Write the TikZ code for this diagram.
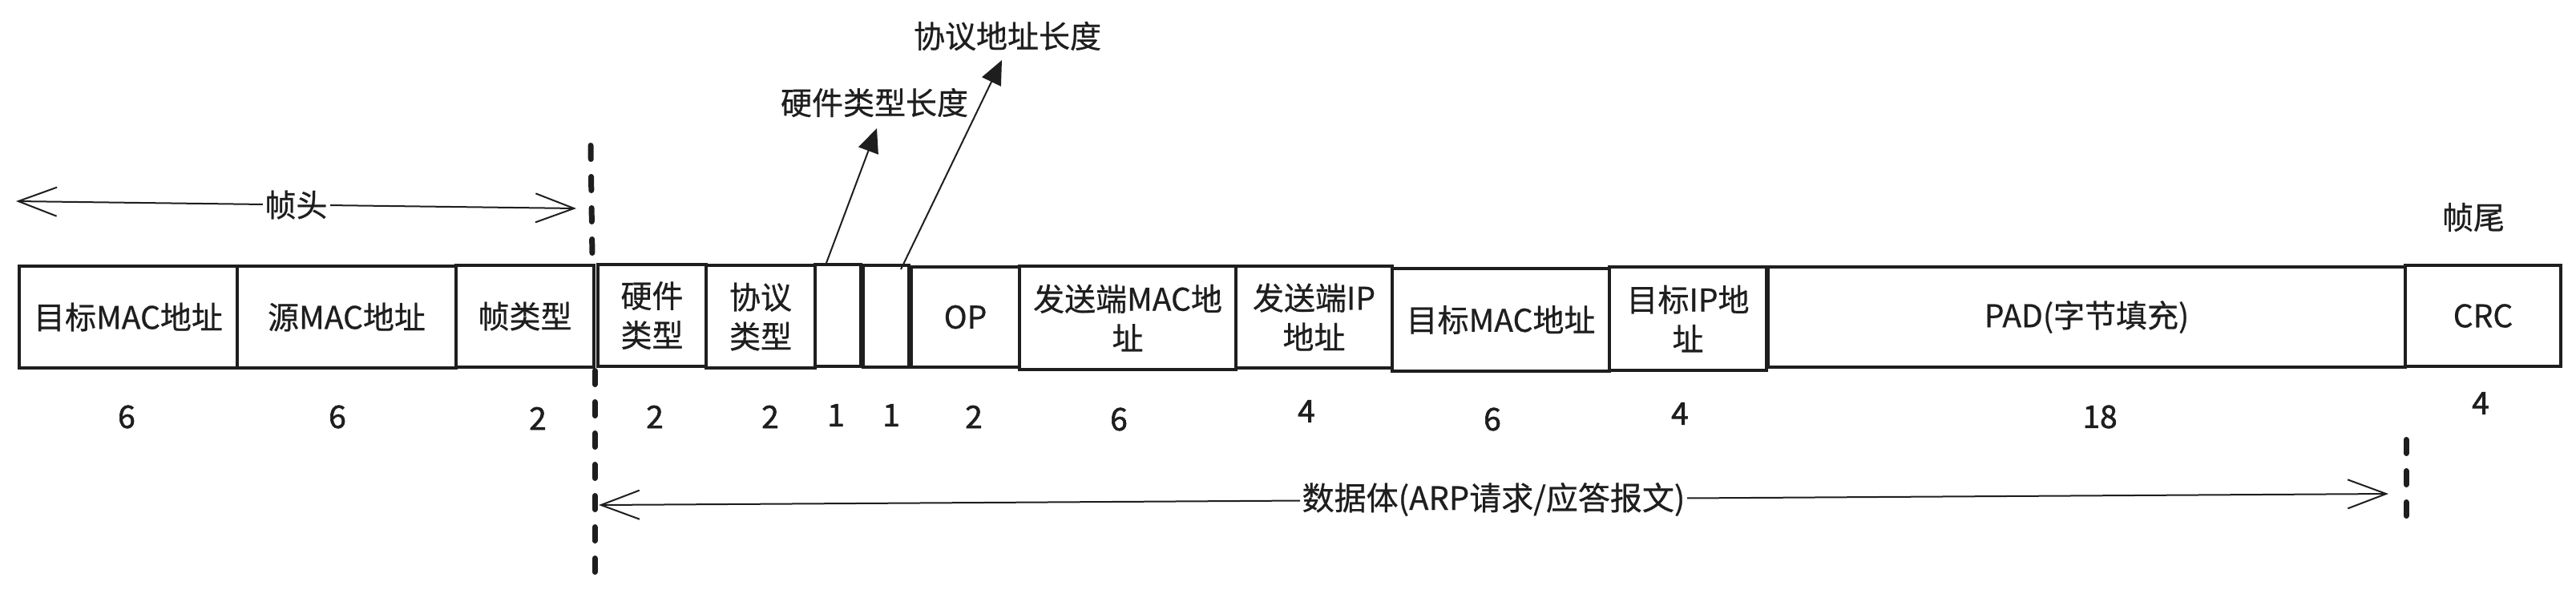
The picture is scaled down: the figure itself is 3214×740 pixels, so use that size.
\documentclass[tikz,border=0pt]{standalone}
\usepackage{fontspec}
\setmainfont{Noto Sans CJK SC}[FakeBold=0.6]
\newfontfamily\numfont{Noto Sans CJK SC}[FakeBold=1.6]
\usetikzlibrary{arrows.meta}
\definecolor{ink}{HTML}{1E1E1E}
\begin{document}
\begin{tikzpicture}[x=1pt,y=-1pt,
  fld/.style={draw=ink, line width=4pt, fill=white, inner sep=0pt, align=center,
              font=\fontsize{39}{49}\selectfont, text=ink},
  num/.style={font=\numfont\fontsize{39}{40}\selectfont, text=ink, inner sep=0pt},
  lbl/.style={font=\fontsize{39}{49}\selectfont, text=ink, inner sep=3pt},
  span/.style={draw=ink, line width=2pt,
               {Straight Barb[length=48pt,width=36pt]}-{Straight Barb[length=48pt,width=36pt]}},
  ptr/.style={draw=ink, line width=2pt, -{Triangle[length=30pt,width=26pt]}},
  sepline/.style={draw=ink, line width=7pt, line cap=round, dash pattern=on 17pt off 22pt},
]
\useasboundingbox (0,0) rectangle (3214,740);

% separators
\coordinate (s1a) at (737,181.5);
\coordinate (s1b) at (739,322);
\coordinate (s2a) at (742,462.5);
\coordinate (s2b) at (742,722);
\coordinate (s3a) at (3002,548.5);
\coordinate (s3b) at (3002,648);
\draw[sepline] (s1a) -- (s1b);
\draw[sepline] (s2a) -- (s2b);
\draw[sepline] (s3a) -- (s3b);

% fields
\node[fld, minimum width=272, minimum height=127] (b1)  at (160,395.5)  {目标MAC地址};
\node[fld, minimum width=273, minimum height=127] (b2)  at (432.5,395.5) {源MAC地址};
\node[fld, minimum width=172, minimum height=127] (b3)  at (655,394.5)  {帧类型};
\node[fld, minimum width=135, minimum height=127] (b4)  at (813.5,393.5) {硬件\\类型};
\node[fld, minimum width=136, minimum height=128] (b5)  at (949,395)    {协议\\类型};
\node[fld, minimum width=57,  minimum height=127] (b6)  at (1045.5,393.5) {};
\node[fld, minimum width=57,  minimum height=127] (b7)  at (1105.5,394.5) {};
\node[fld, minimum width=135, minimum height=125] (b8)  at (1204.5,395.5) {OP};
\node[fld, minimum width=270, minimum height=129] (b9)  at (1407,396.5)  {发送端MAC地\\址};
\node[fld, minimum width=195, minimum height=127] (b10) at (1639.5,395.5) {发送端IP\\地址};
\node[fld, minimum width=271, minimum height=128] (b11) at (1872.5,399)  {目标MAC地址};
\node[fld, minimum width=196, minimum height=129] (b12) at (2106,397.5)  {目标IP地\\址};
\node[fld, minimum width=795, minimum height=125] (b13) at (2603.5,395.5) {PAD(字节填充)};
\node[fld, minimum width=194, minimum height=126] (b14) at (3098,394)   {CRC};

% sizes
\node[num] (n1)  at (158,520)  {6};
\node[num] (n2)  at (421,520)  {6};
\node[num] (n3)  at (671,522)  {2};
\node[num] (n4)  at (817,520)  {2};
\node[num] (n5)  at (961,520)  {2};
\node[num] (n6)  at (1043,518) {1};
\node[num] (n7)  at (1112,518) {1};
\node[num] (n8)  at (1215,520) {2};
\node[num] (n9)  at (1396,523) {6};
\node[num] (n10) at (1630,513) {4};
\node[num] (n11) at (1862,523) {6};
\node[num] (n12) at (2096,516) {4};
\node[num] (n13) at (2620,520) {18};
\node[num] (n14) at (3095,503) {4};

% labels above
\node[lbl] (hwl) at (1091,128) {硬件类型长度};
\node[lbl] (prl) at (1257,45)  {协议地址长度};
\node[lbl] (tail) at (3086,271) {帧尾};

\coordinate (t1) at (1094,160);
\coordinate (t2) at (1250,75);
\draw[ptr] ([xshift=16pt]b6.north west) -- (t1);
\draw[ptr] ([xshift=-12pt,yshift=-7pt]b7.north east) -- (t2);

% spans
\coordinate (h1) at (20,251);
\coordinate (h2) at (719,260);
\draw[span] (h1) -- node[lbl, fill=white] {帧头} (h2);
\coordinate (d1) at (747,630);
\coordinate (d2) at (2980,616);
\draw[span] (d1) -- node[lbl, fill=white, font=\fontsize{40}{49}\selectfont] {数据体(ARP请求/应答报文)} (d2);
\end{tikzpicture}
\end{document}
